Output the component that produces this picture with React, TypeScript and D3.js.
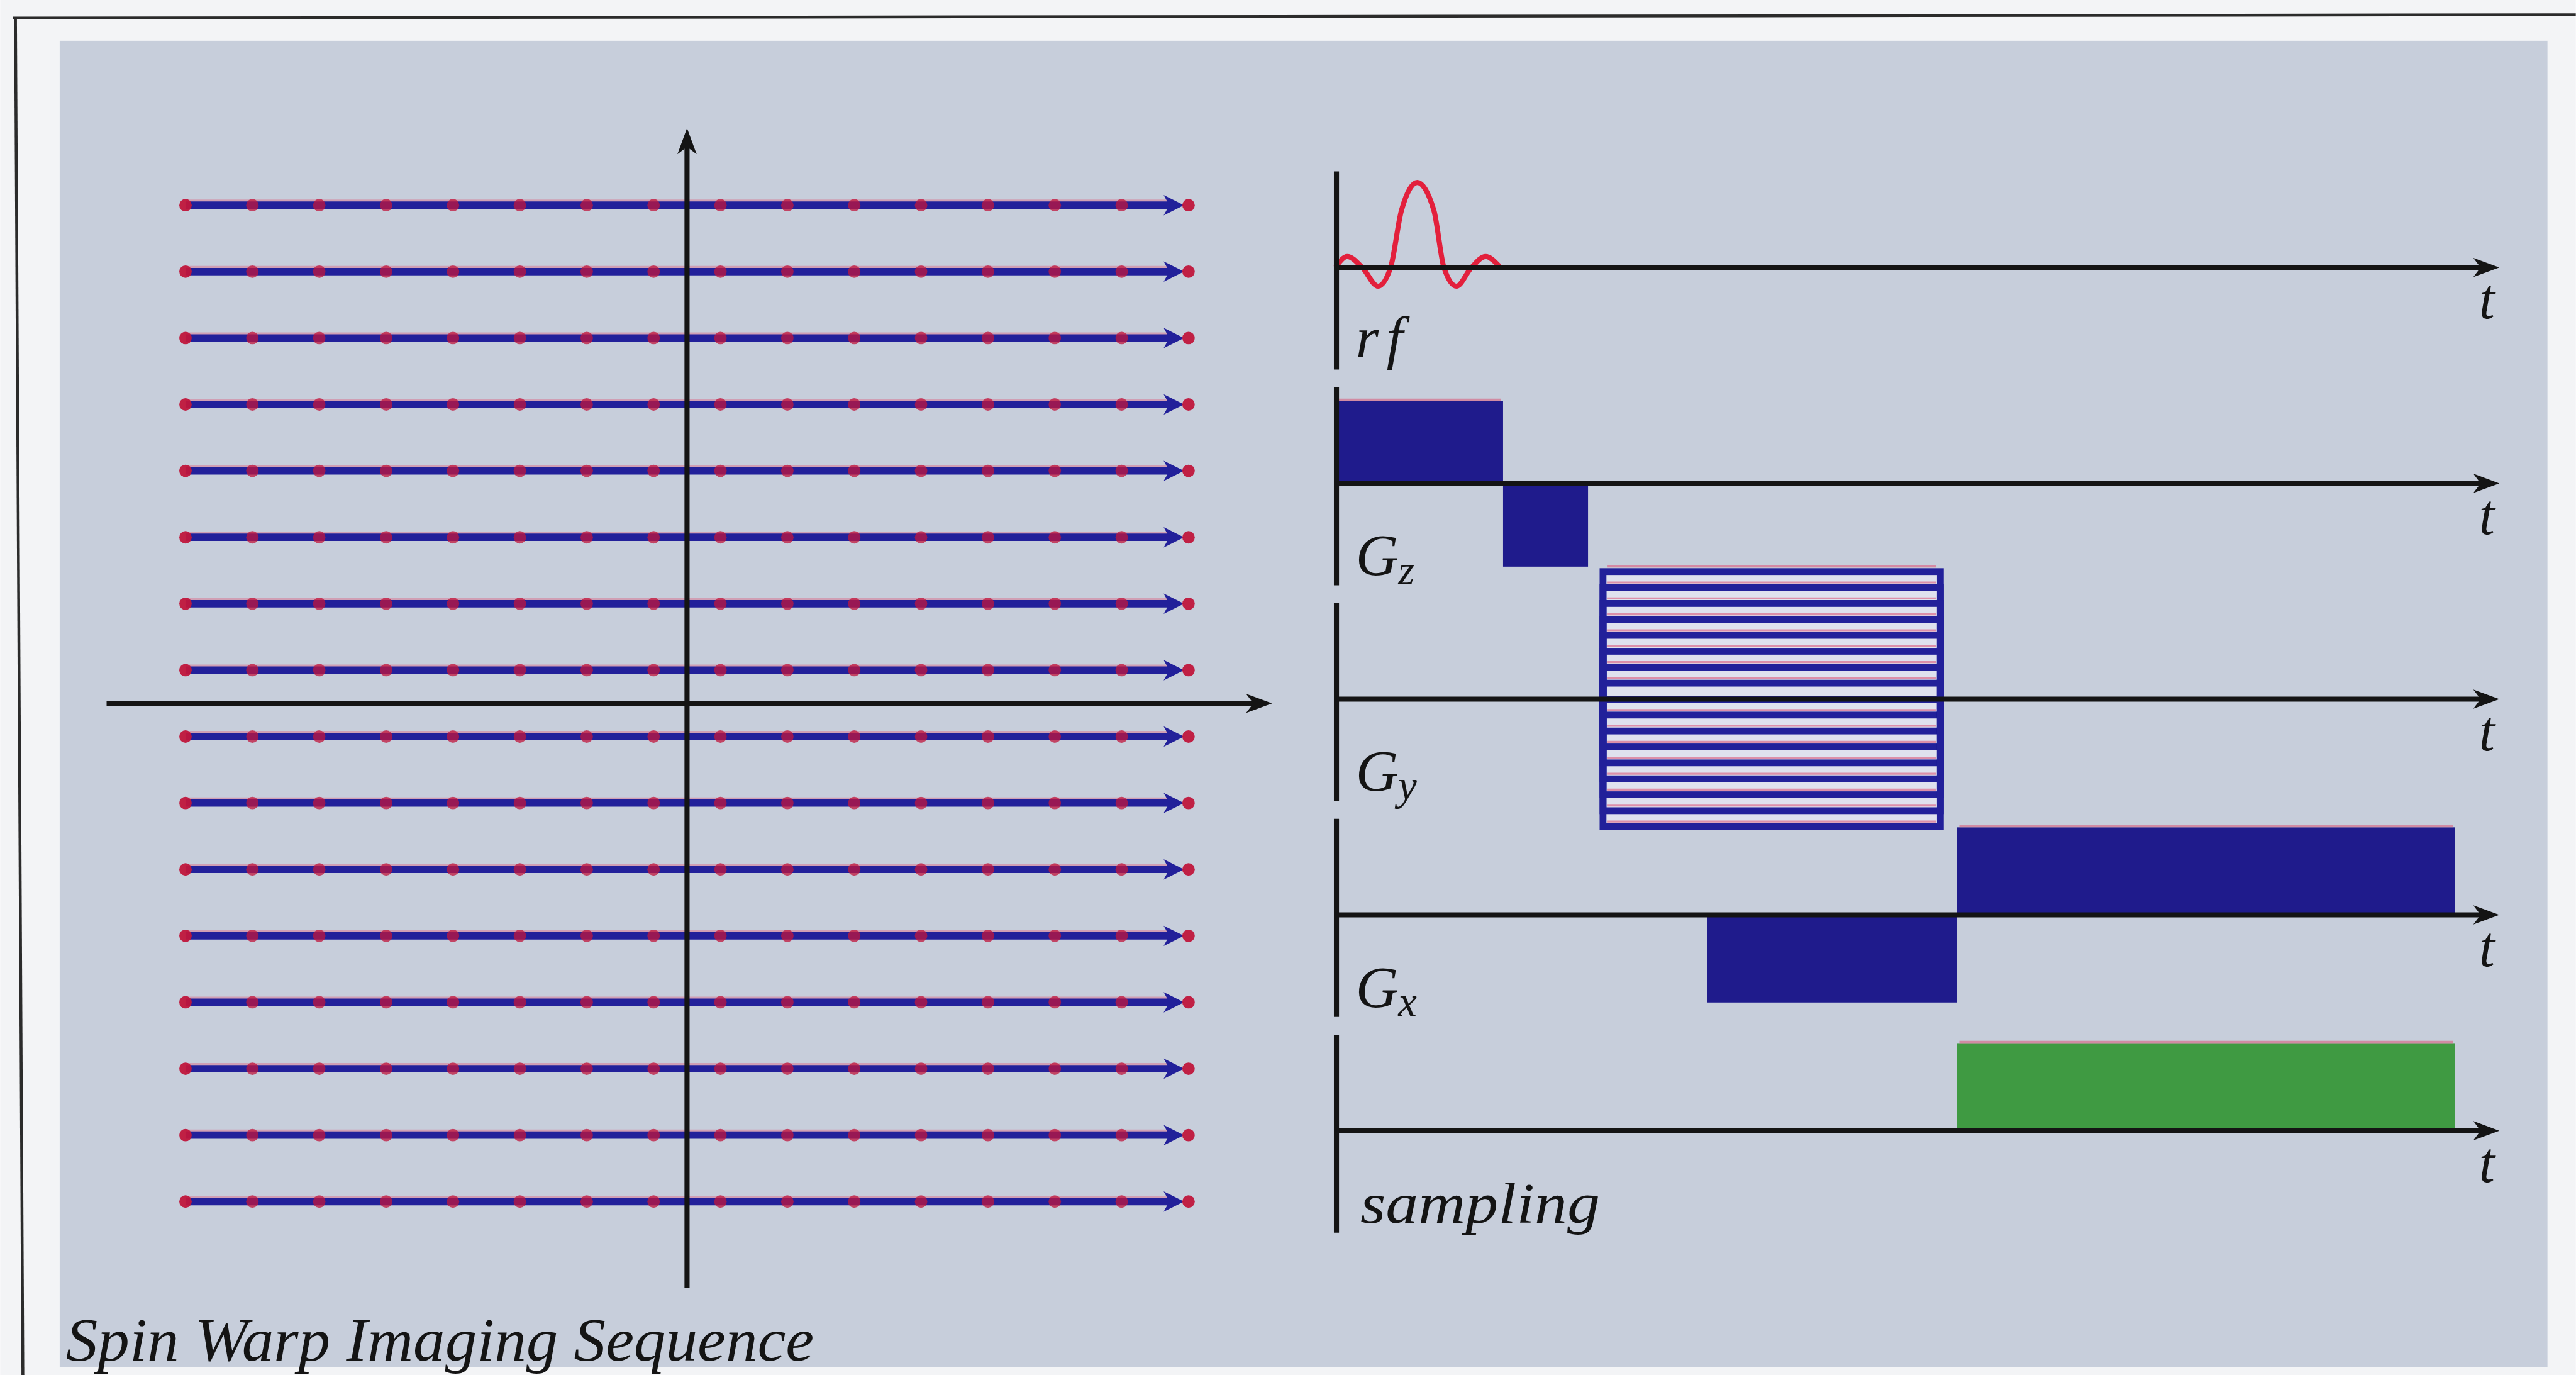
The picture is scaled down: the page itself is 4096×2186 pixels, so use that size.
import React from 'react';
import * as d3 from 'd3';

const W = 4545;
const H = 2426;

// ---- k-space grid (left panel) ----
const kxSamples = [-7.5, -6.5, -5.5, -4.5, -3.5, -2.5, -1.5, -0.5, 0.5, 1.5, 2.5, 3.5, 4.5, 5.5, 6.5, 7.5];
const kyRows = [7.5, 6.5, 5.5, 4.5, 3.5, 2.5, 1.5, 0.5, -0.5, -1.5, -2.5, -3.5, -4.5, -5.5, -6.5, -7.5];
const kAxisX = [-8.68, 8.75];
const kAxisY = [-8.8, 8.66];

// ---- pulse sequence (right panel) ----
const channels = ['rf', 'Gz', 'Gy', 'Gx', 'sampling'];
const channelLabels = [
  { ch: 'rf', main: 'rf', sub: '' },
  { ch: 'Gz', main: 'G', sub: 'z' },
  { ch: 'Gy', main: 'G', sub: 'y' },
  { ch: 'Gx', main: 'G', sub: 'x' },
  { ch: 'sampling', main: 'sampling', sub: '' },
];
// rf pulse: [time, amplitude]
const rfPulse: [number, number][] = [
  [0.0, 0.02], [0.13, 0.13], [0.31, 0.0], [0.5, -0.22], [0.65, 0.0], [0.78, 0.67],
  [0.97, 1.0], [1.17, 0.67], [1.29, 0.0], [1.44, -0.22], [1.62, 0.0], [1.79, 0.13], [1.95, 0.02],
];
const gzLobes = [
  { t0: 0, t1: 2, amp: 0.97 },
  { t0: 2, t1: 3.02, amp: -0.98 },
];
const gxLobes = [
  { t0: 4.45, t1: 7.45, amp: -1.03 },
  { t0: 7.45, t1: 13.43, amp: 1.03 },
];
const gyWindow = [3.2, 7.25];
const gyPhaseSteps = [
  1.5, 1.3125, 1.125, 0.9375, 0.75, 0.5625, 0.375, 0.1875,
  -0.1875, -0.375, -0.5625, -0.75, -0.9375, -1.125, -1.3125, -1.5,
];
const samplingWindows = [{ t0: 7.45, t1: 13.43, amp: 1.03 }];
const timeAxisEnd = 13.96;
const vAxisExtent = [-1.2, 1.13];
const axisLabel = 't';
const title = 'Spin Warp Imaging Sequence';

const BLUE = '#22209a';
const NAVY = '#1f1b8c';
const RED = '#e3203c';
const DOT = '#c0163c';
const GREEN = '#3f9a42';
const INK = '#141414';
const FONT = 'Liberation Serif, Times New Roman, Times, serif';

function Arrow({ x, y, angle, len, hw, fill }: any) {
  const d = `M0,0 L${-len},${-hw} L${-len * 0.72},0 L${-len},${hw} Z`;
  return <path d={d} fill={fill} transform={`translate(${x},${y}) rotate(${angle})`} />;
}

export default function App() {
  const kx = d3.scaleLinear().domain([-7.5, 7.5]).range([327, 2097]);
  const ky = d3.scaleLinear().domain([-7.5, 7.5]).range([2120, 362]);

  const tS = d3.scaleLinear().domain([0, 14]).range([2358, 4416]);
  const chY = d3.scalePoint<string>().domain(channels).range([472, 1995]);
  const aS = d3.scaleLinear().domain([0, 1]).range([0, -150]);
  const yOf = (ch: string, a: number) => (chY(ch) as number) + aS(a);

  const rfLine = d3
    .line<[number, number]>()
    .x((d) => tS(d[0]))
    .y((d) => yOf('rf', d[1]))
    .curve(d3.curveMonotoneX);

  const block = (ch: string, b: any, fill: string, key: string) => {
    const x0 = tS(b.t0), x1 = tS(b.t1);
    const y0 = yOf(ch, 0), y1 = yOf(ch, b.amp);
    return (
      <g key={key}>
        <rect x={x0} y={Math.min(y0, y1)} width={x1 - x0} height={Math.abs(y1 - y0)} fill={fill} />
        {b.amp > 0 && (
          <line x1={x0 + 4} x2={x1 - 4} y1={y1 - 2} y2={y1 - 2} stroke="#d9607e" strokeWidth={4} opacity={0.6} />
        )}
      </g>
    );
  };

  const gx0 = tS(gyWindow[0]);
  const gx1 = tS(gyWindow[1]);
  const gyTop = yOf('Gy', d3.max(gyPhaseSteps) as number);
  const gyBot = yOf('Gy', d3.min(gyPhaseSteps) as number);

  return (
    <svg
      width={4096}
      height={2186}
      viewBox={`0 0 ${W} ${H}`}
      style={{ position: 'absolute', left: 0, top: 0, display: 'block' }}
    >
      <rect x={0} y={0} width={W} height={H} fill="#f3f4f6" />
      <rect x={105} y={72} width={4390} height={2340} fill="#c7cedb" />
      {/* frame lines */}
      <line x1={22} y1={32} x2={W} y2={26} stroke="#2b2b2b" strokeWidth={5} />
      <line x1={27} y1={32} x2={40} y2={H} stroke="#2b2b2b" strokeWidth={5} />

      {/* ---- k-space ---- */}
      {kyRows.map((r, i) => {
        const y = ky(r);
        const xs = kx(kxSamples[0]);
        const xe = kx(kxSamples[kxSamples.length - 1]) - 8;
        return (
          <g key={'row' + i}>
            <line x1={xs} x2={xe - 25} y1={y - 8} y2={y - 8} stroke="#d9728e" strokeWidth={4} opacity={0.5} />
            <line x1={xs} x2={xe - 25} y1={y} y2={y} stroke={BLUE} strokeWidth={13} />
            <Arrow x={xe} y={y} angle={0} len={36} hw={18} fill={BLUE} />
            {kxSamples.map((s, j) => (
              <circle key={j} cx={kx(s)} cy={y} r={11} fill={DOT} fillOpacity={j === 0 || j === kxSamples.length - 1 ? 0.95 : 0.75} />
            ))}
          </g>
        );
      })}
      {/* k-space axes */}
      <line x1={kx(kAxisX[0])} x2={kx(kAxisX[1]) - 30} y1={ky(0)} y2={ky(0)} stroke={INK} strokeWidth={9} />
      <Arrow x={kx(kAxisX[1])} y={ky(0)} angle={0} len={46} hw={17} fill={INK} />
      <line x1={kx(0)} x2={kx(0)} y1={ky(kAxisY[0])} y2={ky(kAxisY[1]) + 30} stroke={INK} strokeWidth={9} />
      <Arrow x={kx(0)} y={ky(kAxisY[1])} angle={-90} len={46} hw={17} fill={INK} />

      {/* ---- pulse sequence ---- */}
      <path d={rfLine(rfPulse) as string} fill="none" stroke={RED} strokeWidth={9} strokeLinejoin="round" strokeLinecap="round" />

      {gzLobes.map((b, i) => block('Gz', b, NAVY, 'gz' + i))}
      {gxLobes.map((b, i) => block('Gx', b, NAVY, 'gx' + i))}
      {samplingWindows.map((b, i) => block('sampling', b, GREEN, 'sw' + i))}

      {/* Gy phase-encoding table */}
      <rect x={gx0} y={gyTop} width={gx1 - gx0} height={gyBot - gyTop} fill="#dfe1ee" />
      {gyPhaseSteps.map((s, i) => (
        <line key={'pk' + i} x1={gx0 + 8} x2={gx1 - 8} y1={yOf('Gy', s) - 9} y2={yOf('Gy', s) - 9} stroke="#db6d8c" strokeWidth={3.5} opacity={0.7} />
      ))}
      {gyPhaseSteps.map((s, i) => {
        const y0 = yOf('Gy', 0);
        const y1 = yOf('Gy', s);
        return (
          <rect key={'gy' + i} x={gx0} y={Math.min(y0, y1)} width={gx1 - gx0} height={Math.abs(y1 - y0)} fill="none" stroke={BLUE} strokeWidth={12} />
        );
      })}

      {/* channel axes */}
      {channels.map((ch) => {
        const y = yOf(ch, 0);
        return (
          <g key={'ax' + ch}>
            <line x1={tS(0)} x2={tS(0)} y1={yOf(ch, vAxisExtent[1])} y2={yOf(ch, vAxisExtent[0])} stroke={INK} strokeWidth={9} />
            <line x1={tS(0)} x2={tS(timeAxisEnd) - 30} y1={y} y2={y} stroke={INK} strokeWidth={9} />
            <Arrow x={tS(timeAxisEnd)} y={y} angle={0} len={46} hw={17} fill={INK} />
            <text x={tS(timeAxisEnd) - 36} y={y + 90} fontFamily={FONT} fontStyle="italic" fontSize={100} fill={INK}>
              {axisLabel}
            </text>
          </g>
        );
      })}

      {/* channel labels */}
      {channelLabels.map((l) => {
        const y = yOf(l.ch, 0) + 162;
        const x = tS(0) + 34;
        if (l.ch === 'sampling') {
          return (
            <text key={l.ch} x={x + 8} y={y} fontFamily={FONT} fontStyle="italic" fontSize={100} fill={INK} textLength={423} lengthAdjust="spacingAndGlyphs">
              {l.main}
            </text>
          );
        }
        if (l.sub === '') {
          return (
            <text key={l.ch} x={x} y={y - 4} fontFamily={FONT} fontStyle="italic" fontSize={104} fill={INK} letterSpacing={14}>
              {l.main}
            </text>
          );
        }
        return (
          <text key={l.ch} x={x} y={y} fontFamily={FONT} fontStyle="italic" fontSize={104} fill={INK}>
            {l.main}
            <tspan fontSize={74} dy={16}>{l.sub}</tspan>
          </text>
        );
      })}

      {/* caption */}
      <text x={116} y={2400} fontFamily={FONT} fontStyle="italic" fontSize={108} fill={INK} textLength={1320} lengthAdjust="spacingAndGlyphs">
        {title}
      </text>
    </svg>
  );
}
